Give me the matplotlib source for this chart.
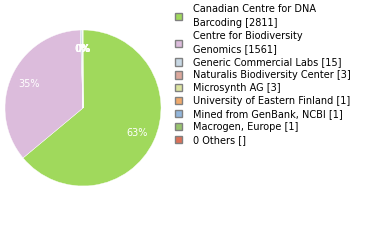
import matplotlib
matplotlib.use('Agg')
import matplotlib.pyplot as plt
from matplotlib.patches import Patch

# institutions and record counts
labels = ['Canadian Centre for DNA\nBarcoding', 'Centre for Biodiversity\nGenomics',
          'Generic Commercial Labs', 'Naturalis Biodiversity Center', 'Microsynth AG',
          'University of Eastern Finland', 'Mined from GenBank, NCBI', 'Macrogen, Europe']
counts = [2811, 1561, 15, 3, 3, 1, 1, 1]
colors = ['#a0d95c', '#dcbcdc', '#c8d8e4', '#dca89c', '#dce4a0',
          '#f0aa6c', '#92b6dc', '#98c46e', '#dc7058']

fig = plt.figure(figsize=(3.8, 2.4), dpi=100)
ax = fig.add_axes([5 / 380, (240 - 186) / 240, 156 / 380, 156 / 240])

wedges, texts, autotexts = ax.pie(
    counts, colors=colors[:len(counts)], startangle=90, counterclock=False,
    autopct=lambda p: '%d%%' % int(p), pctdistance=0.76,
    wedgeprops={'edgecolor': 'white', 'linewidth': 0.3},
    textprops={'color': 'white', 'fontsize': 7})
ax.set_xlim(-1, 1)
ax.set_ylim(-1, 1)
ax.set_aspect('equal')

leg_labels = ['%s [%d]' % (l, c) for l, c in zip(labels, counts)] + ['0 Others []']
handles = [Patch(facecolor=col, edgecolor='#808080', linewidth=1) for col in colors]
leg = fig.legend(handles, leg_labels, loc='upper left', bbox_to_anchor=(168 / 380, 1.01),
                 frameon=False, fontsize=7, handlelength=0.75, handleheight=0.75,
                 handletextpad=1.1, labelspacing=0.3, borderpad=0.2)
for t in leg.get_texts():
    t.set_linespacing(1.45)

fig.savefig('out.png', dpi=100)
